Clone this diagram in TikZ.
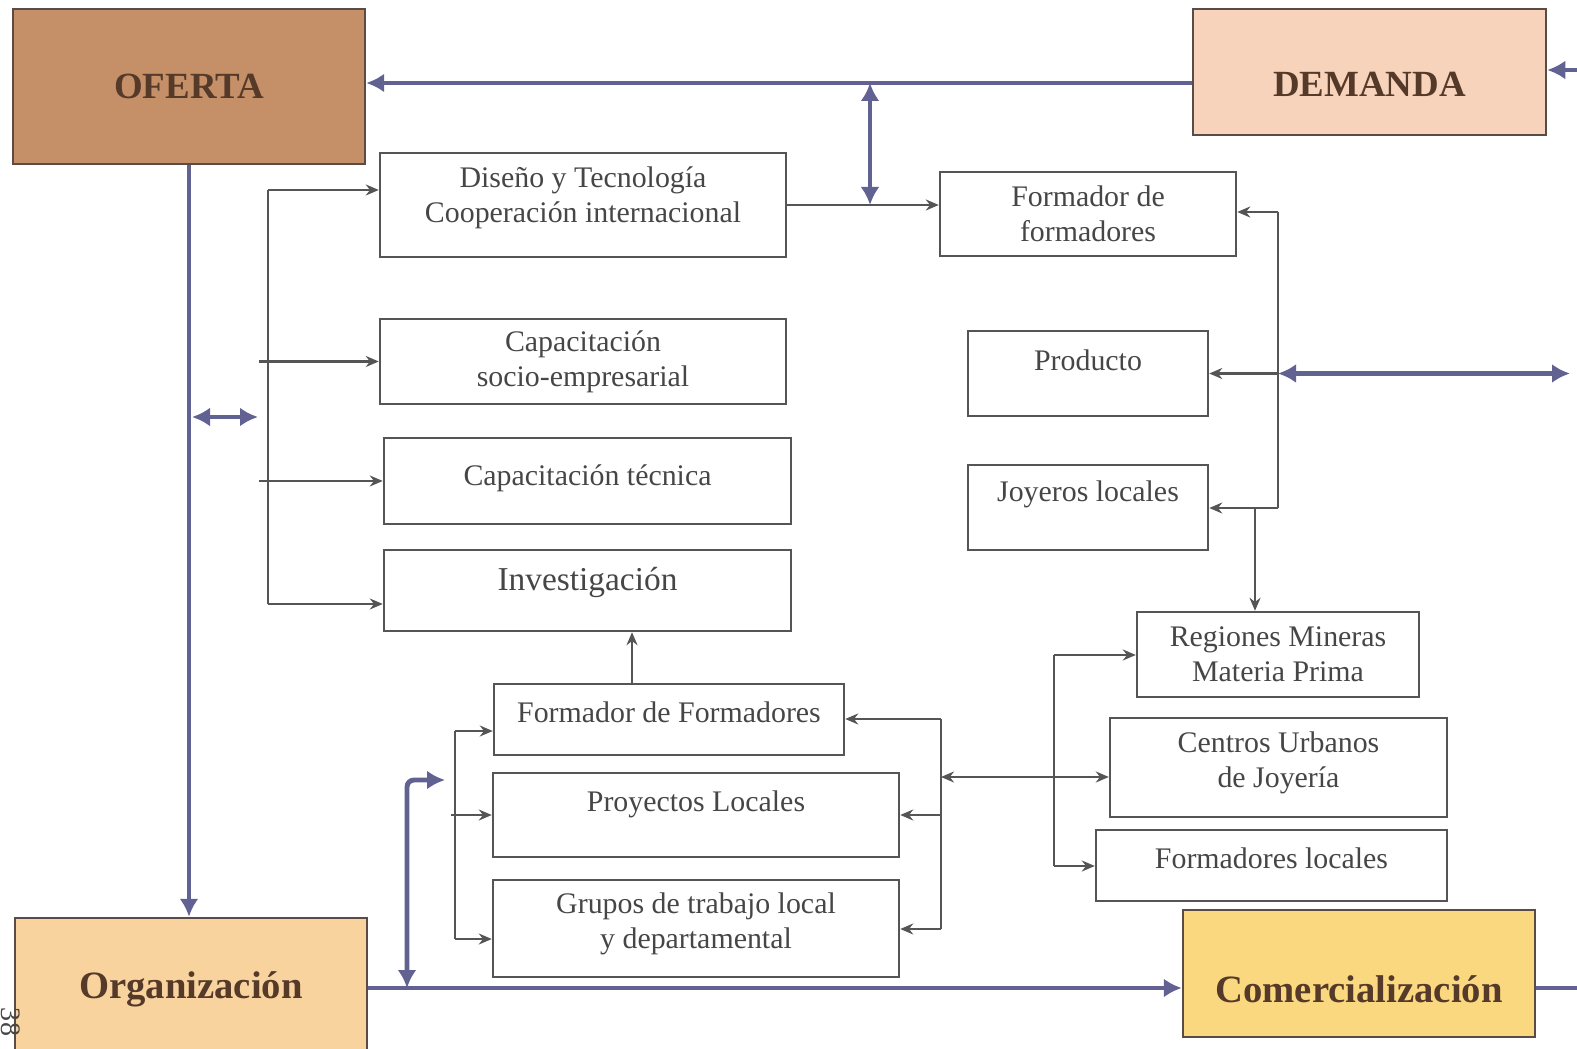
\documentclass[tikz,border=0pt]{standalone}
\usepackage{fontspec}
\setmainfont{Liberation Serif}
\usetikzlibrary{arrows.meta}
\definecolor{ofcol}{RGB}{197,143,104}
\definecolor{demcol}{RGB}{248,211,187}
\definecolor{orgcol}{RGB}{249,211,158}
\definecolor{comcol}{RGB}{250,216,128}
\definecolor{bluegray}{RGB}{98,98,146}
\definecolor{linegray}{RGB}{85,85,85}
\definecolor{txtgray}{RGB}{70,70,70}
\definecolor{headtxt}{RGB}{85,58,42}
\definecolor{headline}{RGB}{90,75,70}

\begin{document}
\begin{tikzpicture}[
  box/.style={draw=linegray, line width=0.7pt, align=center, text=txtgray,
    inner sep=0pt, font=\fontsize{8.5}{10}\selectfont},
  head/.style={draw=headline, line width=0.7pt, inner sep=0pt, text=headtxt,
    font=\fontsize{10.5}{12}\selectfont\bfseries},
  lift/.style={text depth=#1},
  sink/.style={text height=#1},
  conn/.style={draw=linegray, line width=0.6pt, >={Stealth[length=1.3mm,width=1.1mm]}},
  flow/.style={draw=bluegray, line width=1.4pt, >={Latex[length=1.8mm,width=1.9mm]}}
]
\useasboundingbox (0,0) rectangle (15.77,-10.49);

\node[head, fill=ofcol, minimum width=3.52cm, minimum height=1.55cm] (of) at (1.89,-0.865) {OFERTA};
\node[head, fill=demcol, minimum width=3.53cm, minimum height=1.26cm, sink=0.5cm] (dem) at (13.695,-0.72) {DEMANDA};
\node[head, fill=orgcol, minimum width=3.52cm, minimum height=1.42cm, font=\fontsize{11}{13}\selectfont\bfseries] (org) at (1.91,-9.89) {Organización};
\node[head, fill=comcol, minimum width=3.52cm, minimum height=1.27cm, sink=0.58cm, font=\fontsize{11}{13}\selectfont\bfseries] (com) at (13.59,-9.735) {Comercialización};

\node[box, minimum width=4.06cm, minimum height=1.04cm, lift=0.21cm] (dis) at (5.83,-2.05) {Diseño y Tecnología\\Cooperación internacional};
\node[box, minimum width=4.06cm, minimum height=0.85cm] (cse) at (5.83,-3.615) {Capacitación\\socio-empresarial};
\node[box, minimum width=4.07cm, minimum height=0.86cm, lift=0.12cm] (ctec) at (5.875,-4.81) {Capacitación técnica};
\node[box, minimum width=4.07cm, minimum height=0.81cm, lift=0.24cm, font=\fontsize{9.5}{11}\selectfont] (inv) at (5.875,-5.905) {Investigación};
\node[box, minimum width=2.96cm, minimum height=0.84cm] (ff1) at (10.88,-2.14) {Formador de\\formadores};
\node[box, minimum width=2.40cm, minimum height=0.85cm, lift=0.27cm] (prod) at (10.88,-3.735) {Producto};
\node[box, minimum width=2.40cm, minimum height=0.85cm, lift=0.33cm] (joy) at (10.88,-5.075) {Joyeros locales};
\node[box, minimum width=2.82cm, minimum height=0.85cm] (reg) at (12.78,-6.545) {Regiones Mineras\\Materia Prima};
\node[box, minimum width=3.37cm, minimum height=0.99cm, lift=0.15cm] (cen) at (12.785,-7.675) {Centros Urbanos\\de Joyería};
\node[box, minimum width=3.51cm, minimum height=0.71cm, lift=0.15cm] (floc) at (12.715,-8.655) {Formadores locales};
\node[box, minimum width=3.50cm, minimum height=0.71cm, lift=0.15cm] (ff2) at (6.69,-7.195) {Formador de Formadores};
\node[box, minimum width=4.06cm, minimum height=0.84cm, lift=0.28cm] (pro) at (6.96,-8.15) {Proyectos Locales};
\node[box, minimum width=4.06cm, minimum height=0.97cm, lift=0.15cm] (gru) at (6.96,-9.285) {Grupos de trabajo local\\y departamental};

\node[text=txtgray, rotate=-90, font=\fontsize{8}{9}\selectfont, inner sep=0pt] (pag) at (0.11,-10.22) {38};

\coordinate (tj) at (8.70,-0.83);
\coordinate (dl) at (1.92,-4.17);
\coordinate (dr) at (2.58,-4.17);
\coordinate (mid) at (4.07,-9.88);
\coordinate (lp) at (4.45,-7.80);
\coordinate (de) at (15.85,-0.70);
\coordinate (pr) at (15.70,-3.735);
\coordinate (bl1) at (2.68,-1.90);
\coordinate (bl2) at (2.68,-6.04);
\coordinate (br1) at (12.78,-2.12);
\coordinate (br2) at (12.78,-5.08);
\coordinate (jr) at (12.55,-5.08);
\coordinate (bb1) at (4.55,-7.31);
\coordinate (bb2) at (4.55,-9.39);
\coordinate (mb1) at (9.41,-7.19);
\coordinate (mb2) at (9.41,-9.29);
\coordinate (mc) at (9.41,-7.77);
\coordinate (rb1) at (10.54,-6.55);
\coordinate (rb2) at (10.54,-8.66);

\draw[conn] (bl1) -- (bl2);
\draw[conn,->] (bl1) -- (bl1 -| dis.west);
\draw[conn,->] ([xshift=-1.2cm]cse.west) -- (cse.west);
\draw[conn,->] ([xshift=-1.24cm]ctec.west) -- (ctec.west);
\draw[conn,->] (bl2) -- (bl2 -| inv.west);
\draw[conn,->] (dis.east) -- (dis.east -| ff1.west);
\draw[conn,->] ([xshift=-0.37cm]ff2.north) -- ([xshift=-0.37cm]ff2.north |- inv.south);

\draw[conn] (br1) -- (br2);
\draw[conn,->] (br1) -- (br1 -| ff1.east);
\draw[conn,->] (br1 |- prod.east) -- (prod.east);
\draw[conn,->] (br2) -- (br2 -| joy.east);
\draw[conn,->] (jr) -- (jr |- reg.north);

\draw[conn] (bb1) -- (bb2);
\draw[conn,->] (bb1) -- (bb1 -| ff2.west);
\draw[conn,->] ([xshift=-0.41cm]pro.west) -- (pro.west);
\draw[conn,->] (bb2) -- (bb2 -| gru.west);

\draw[conn] (mb1) -- (mb2);
\draw[conn,->] (mb1) -- (mb1 -| ff2.east);
\draw[conn,->] (mb1 |- pro.east) -- (pro.east);
\draw[conn,->] (mb2) -- (mb2 -| gru.east);
\draw[conn,<->] (mc) -- (mc -| cen.west);

\draw[conn] (rb1) -- (rb2);
\draw[conn,->] (rb1) -- (rb1 -| reg.west);
\draw[conn,->] (rb2) -- (rb2 -| floc.west);

\draw[flow,->] (dem.west |- tj) -- (of.east |- tj);
\draw[flow,<->] (tj) -- (tj |- dis.east);
\draw[flow,->] (of.south) -- (of.south |- org.north);
\draw[flow,<->] (dl) -- (dr);
\draw[flow,->] (org.east |- mid) -- (com.west |- mid);
\draw[flow] (com.east |- mid) -- ++(0.5,0);
\draw[flow,<->,rounded corners=2pt] (lp) -- (mid |- lp) -- (mid);
\draw[flow,->] (de) -- (de -| dem.east);
\draw[flow,<->] (br1 |- prod.east) -- (pr);
\end{tikzpicture}
\end{document}
